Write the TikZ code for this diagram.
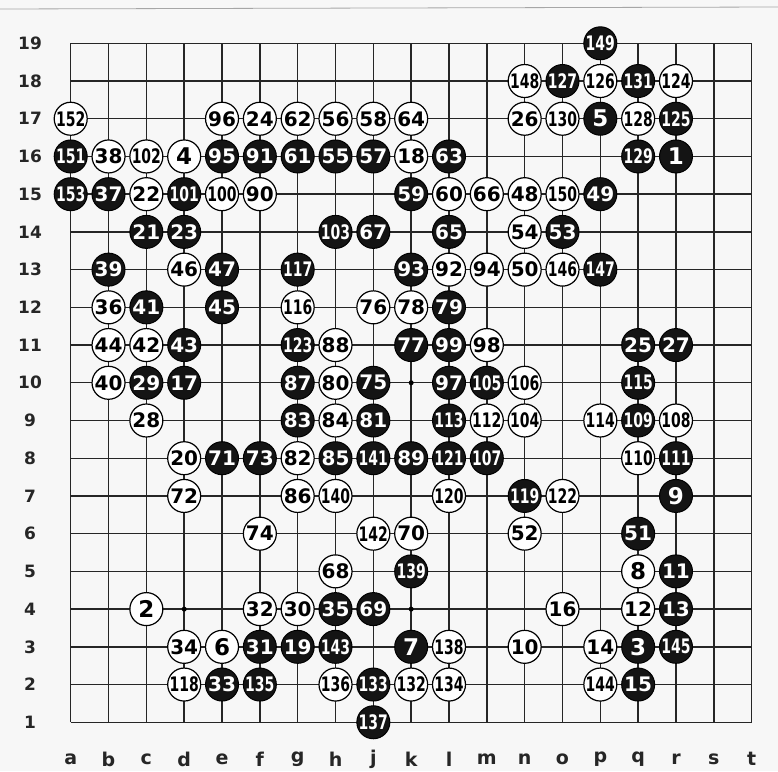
\documentclass[tikz,border=0pt]{standalone}
\usepackage{fontspec}
\setmainfont{DejaVu Sans}
\usepackage{graphicx}
\tikzset{
  bst/.style={circle,fill=black!92,draw=black,line width=1pt,text=white,minimum size=33pt,inner sep=0pt,font=\bfseries},
  wst/.style={circle,fill=white,draw=black,line width=1.2pt,text=black,minimum size=33pt,inner sep=0pt,font=\bfseries},
  gridline/.style={line width=1.4pt,draw=black!85},
  lbl/.style={font=\bfseries\fontsize{17}{17}\selectfont,text=black!85},
  clbl/.style={font=\bfseries\fontsize{19}{19}\selectfont,text=black!85},
  hoshi/.style={circle,fill=black,inner sep=0pt,minimum size=5pt}
}
\newcommand\numtxt[1]{\ifnum#1>99 \scalebox{0.7}[1]{\fontsize{20}{20}\selectfont #1}\else\ifnum#1>9 \fontsize{20}{20}\selectfont #1\else\fontsize{23}{23}\selectfont #1\fi\fi}
\newcommand\stn[3]{\ifodd#3 \def\sty{bst}\else\def\sty{wst}\fi
  \node[\sty] (s#3) at ({70.7+37.83*#1},{43.3+37.72*(19-#2)}) {\numtxt{#3}};}
\begin{document}
\begin{tikzpicture}[x=1pt,y=-1pt]
\useasboundingbox[fill=black!3] (0,0) rectangle (778,771);
\draw[black!35,line width=0.8pt] (0,9) -- (778,7);
% grid
\foreach \i in {0,...,18}{
  \draw[gridline] ({70.7+37.83*\i},43.3) -- ({70.7+37.83*\i},722.3);
  \draw[gridline] (70.7,{43.3+37.72*\i}) -- (751.6,{43.3+37.72*\i});
}
% row labels
\foreach \r in {1,...,19}{
  \node[lbl] (r\r) at (30,{43.3+37.72*(19-\r)}) {\r};
}
% column labels
\foreach \c [count=\k from 0] in {a,b,c,d,e,f,g,h,j,k,l,m,n,o,p,q,r,s,t}{
  \node[clbl] (c\c) at ({70.7+37.83*\k},759) {\c};
}
% star points
\node[hoshi] (h1) at ({70.7+37.83*3},{43.3+37.72*15}) {};
\node[hoshi] (h2) at ({70.7+37.83*9},{43.3+37.72*15}) {};
\node[hoshi] (h3) at ({70.7+37.83*9},{43.3+37.72*9}) {};
% stones: col index a=0 ... t=18 (no i)
% row 19
\stn{14}{19}{149}
% row 18
\stn{12}{18}{148}\stn{13}{18}{127}\stn{14}{18}{126}\stn{15}{18}{131}\stn{16}{18}{124}
% row 17
\stn{0}{17}{152}\stn{4}{17}{96}\stn{5}{17}{24}\stn{6}{17}{62}\stn{7}{17}{56}\stn{8}{17}{58}\stn{9}{17}{64}
\stn{12}{17}{26}\stn{13}{17}{130}\stn{14}{17}{5}\stn{15}{17}{128}\stn{16}{17}{125}
% row 16
\stn{0}{16}{151}\stn{1}{16}{38}\stn{2}{16}{102}\stn{3}{16}{4}\stn{4}{16}{95}\stn{5}{16}{91}\stn{6}{16}{61}
\stn{7}{16}{55}\stn{8}{16}{57}\stn{9}{16}{18}\stn{10}{16}{63}\stn{15}{16}{129}\stn{16}{16}{1}
% row 15
\stn{0}{15}{153}\stn{1}{15}{37}\stn{2}{15}{22}\stn{3}{15}{101}\stn{4}{15}{100}\stn{5}{15}{90}
\stn{9}{15}{59}\stn{10}{15}{60}\stn{11}{15}{66}\stn{12}{15}{48}\stn{13}{15}{150}\stn{14}{15}{49}
% row 14
\stn{2}{14}{21}\stn{3}{14}{23}\stn{7}{14}{103}\stn{8}{14}{67}\stn{10}{14}{65}\stn{12}{14}{54}\stn{13}{14}{53}
% row 13
\stn{1}{13}{39}\stn{3}{13}{46}\stn{4}{13}{47}\stn{6}{13}{117}\stn{9}{13}{93}\stn{10}{13}{92}\stn{11}{13}{94}
\stn{12}{13}{50}\stn{13}{13}{146}\stn{14}{13}{147}
% row 12
\stn{1}{12}{36}\stn{2}{12}{41}\stn{4}{12}{45}\stn{6}{12}{116}\stn{8}{12}{76}\stn{9}{12}{78}\stn{10}{12}{79}
% row 11
\stn{1}{11}{44}\stn{2}{11}{42}\stn{3}{11}{43}\stn{6}{11}{123}\stn{7}{11}{88}\stn{9}{11}{77}\stn{10}{11}{99}
\stn{11}{11}{98}\stn{15}{11}{25}\stn{16}{11}{27}
% row 10
\stn{1}{10}{40}\stn{2}{10}{29}\stn{3}{10}{17}\stn{6}{10}{87}\stn{7}{10}{80}\stn{8}{10}{75}\stn{10}{10}{97}
\stn{11}{10}{105}\stn{12}{10}{106}\stn{15}{10}{115}
% row 9
\stn{2}{9}{28}\stn{6}{9}{83}\stn{7}{9}{84}\stn{8}{9}{81}\stn{10}{9}{113}\stn{11}{9}{112}\stn{12}{9}{104}
\stn{14}{9}{114}\stn{15}{9}{109}\stn{16}{9}{108}
% row 8
\stn{3}{8}{20}\stn{4}{8}{71}\stn{5}{8}{73}\stn{6}{8}{82}\stn{7}{8}{85}\stn{8}{8}{141}\stn{9}{8}{89}
\stn{10}{8}{121}\stn{11}{8}{107}\stn{15}{8}{110}\stn{16}{8}{111}
% row 7
\stn{3}{7}{72}\stn{6}{7}{86}\stn{7}{7}{140}\stn{10}{7}{120}\stn{12}{7}{119}\stn{13}{7}{122}\stn{16}{7}{9}
% row 6
\stn{5}{6}{74}\stn{8}{6}{142}\stn{9}{6}{70}\stn{12}{6}{52}\stn{15}{6}{51}
% row 5
\stn{7}{5}{68}\stn{9}{5}{139}\stn{15}{5}{8}\stn{16}{5}{11}
% row 4
\stn{2}{4}{2}\stn{5}{4}{32}\stn{6}{4}{30}\stn{7}{4}{35}\stn{8}{4}{69}\stn{13}{4}{16}\stn{15}{4}{12}\stn{16}{4}{13}
% row 3
\stn{3}{3}{34}\stn{4}{3}{6}\stn{5}{3}{31}\stn{6}{3}{19}\stn{7}{3}{143}\stn{9}{3}{7}\stn{10}{3}{138}
\stn{12}{3}{10}\stn{14}{3}{14}\stn{15}{3}{3}\stn{16}{3}{145}
% row 2
\stn{3}{2}{118}\stn{4}{2}{33}\stn{5}{2}{135}\stn{7}{2}{136}\stn{8}{2}{133}\stn{9}{2}{132}\stn{10}{2}{134}
\stn{14}{2}{144}\stn{15}{2}{15}
% row 1
\stn{8}{1}{137}
\end{tikzpicture}
\end{document}
